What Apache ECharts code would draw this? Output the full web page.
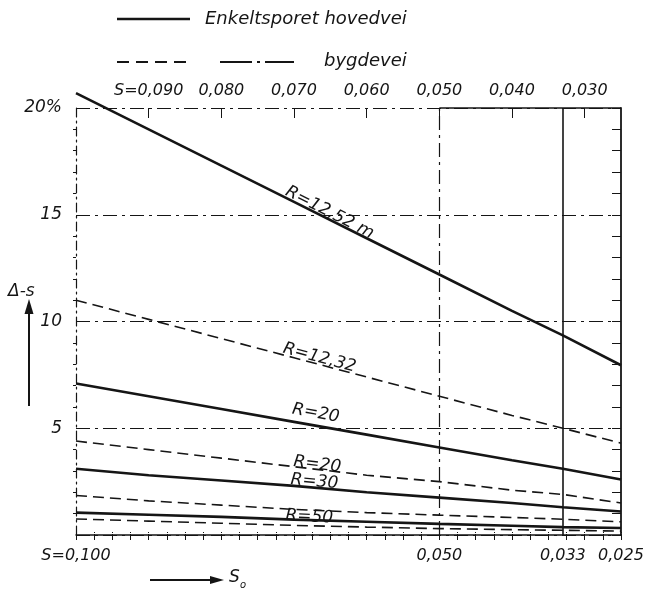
<!DOCTYPE html>
<html><head><meta charset="utf-8">
<script src="https://cdn.jsdelivr.net/npm/echarts@6/dist/echarts.min.js"></script>
<style>html,body{margin:0;padding:0;background:#fff}#c{width:648px;height:592px}</style>
</head><body><div id="c"></div>
<script>
// s values (x) at which curves were read
const sValues = [0.100, 0.090, 0.080, 0.070, 0.060, 0.050, 0.040, 0.033, 0.025];
// Enkeltsporet hovedvei (solid)
const hovedR1252 = [20.7, 19.0, 17.3, 15.6, 13.9, 12.2, 10.5, 9.35, 7.95];
const hovedR20   = [7.1, 6.5, 5.9, 5.3, 4.7, 4.1, 3.5, 3.1, 2.6];
const hovedR30   = [3.1, 2.8, 2.55, 2.3, 2.0, 1.75, 1.5, 1.3, 1.1];
const hovedR50   = [1.05, 0.95, 0.85, 0.72, 0.62, 0.52, 0.43, 0.37, 0.33];
// bygdevei (dashed)
const bygdR1232  = [11.0, 10.1, 9.2, 8.3, 7.4, 6.5, 5.6, 5.0, 4.3];
const bygdR20    = [4.4, 4.0, 3.6, 3.2, 2.8, 2.5, 2.1, 1.9, 1.5];
const bygdR30    = [1.85, 1.6, 1.4, 1.2, 1.05, 0.93, 0.82, 0.74, 0.62];
const bygdR50    = [0.75, 0.65, 0.55, 0.45, 0.37, 0.30, 0.25, 0.22, 0.18];
// tick labels
const topLabelValues = [0.090, 0.080, 0.070, 0.060, 0.050, 0.040, 0.030];
const bottomLabelValues = [0.100, 0.050, 0.033, 0.025];
const yLabelValues = [5, 10, 15, 20];
const refLinesS = [0.050, 0.033];
const curveNames = ['R=12,52 m', 'R=12,32', 'R=20', 'R=20', 'R=30', 'R=50'];

const INK = '#151515';
const FONT = '"DejaVu Sans", sans-serif';
const fineTicks = [];
for (let i = 0; i <= 30; i++) fineTicks.push(+(0.1 - i * 0.0025).toFixed(4));
const fmt = v => v.toFixed(3).replace('.', ',');

function pairs(ys) { return sValues.map((s, i) => [s, ys[i]]); }
function lineSeries(name, ys, dashed, lbl) {
  const ser = {
    type: 'line', name, data: pairs(ys), xAxisIndex: 0, yAxisIndex: 0,
    symbol: 'none', smooth: false, clip: false, silent: true,
    lineStyle: { color: INK, width: dashed ? 1.6 : 2.6, type: dashed ? [11, 6] : 'solid' },
    z: 5
  };
  if (lbl) {
    ser.markPoint = {
      symbol: 'circle', symbolSize: 1, silent: true, precision: 5,
      itemStyle: { color: 'rgba(0,0,0,0)' },
      label: { show: true, position: 'inside', formatter: lbl.text, rotate: lbl.rot,
               color: INK, fontStyle: 'italic', fontSize: 17, fontFamily: FONT },
      data: [{ coord: lbl.at }]
    };
  }
  return ser;
}

const chart = echarts.init(document.getElementById('c'), null, { renderer: 'canvas' });
const xBase = { type: 'value', min: 0.025, max: 0.1, inverse: true, splitLine: { show: false } };
chart.setOption({
  animation: false,
  backgroundColor: '#fff',
  grid: { left: 76, right: 27, top: 108, bottom: 57, containLabel: false },
  xAxis: [
    Object.assign({}, xBase, {
      position: 'bottom',
      axisLine: { lineStyle: { color: INK, width: 1.5 } },
      axisTick: { inside: true, length: 4, customValues: fineTicks, lineStyle: { color: INK, width: 1, type: 'dotted' } },
      axisLabel: { customValues: bottomLabelValues, margin: 13, color: INK, fontStyle: 'italic', fontSize: 16, fontFamily: FONT,
        formatter: v => (Math.abs(v - 0.1) < 1e-6 ? 'S=' : '') + fmt(v) }
    }),
    Object.assign({}, xBase, {
      position: 'top',
      axisLine: { show: false },
      axisTick: { inside: true, length: 5, customValues: fineTicks, lineStyle: { color: INK, width: 1 } },
      axisLabel: { customValues: topLabelValues, margin: 9, color: INK, fontStyle: 'italic', fontSize: 16, fontFamily: FONT,
        formatter: v => (Math.abs(v - 0.09) < 1e-6 ? 'S=' : '') + fmt(v) }
    }),
    Object.assign({}, xBase, {
      position: 'top',
      axisLine: { show: false },
      axisTick: { inside: true, length: 10, customValues: topLabelValues, lineStyle: { color: INK, width: 1 } },
      axisLabel: { show: false }
    })
  ],
  yAxis: [
    {
      type: 'value', position: 'left', min: 0, max: 20, interval: 5,
      axisLine: { show: true, lineStyle: { color: INK, width: 1.2, type: [9, 4, 2, 4] } },
      axisTick: { show: false },
      minorTick: { show: true, splitNumber: 5, length: 3, lineStyle: { color: INK } },
      axisLabel: { customValues: yLabelValues, margin: 14, color: INK, fontStyle: 'italic', fontSize: 17, fontFamily: FONT,
        formatter: v => v === 20 ? '20%' : String(v) },
      splitLine: { show: true, lineStyle: { color: INK, width: 1, type: [14, 5, 3, 5] } }
    },
    {
      type: 'value', position: 'right', min: 0, max: 20, interval: 1,
      axisLine: { show: true, lineStyle: { color: INK, width: 1.8 } },
      axisTick: { show: true, inside: true, length: 9, lineStyle: { color: INK, width: 1 } },
      axisLabel: { show: false }, splitLine: { show: false }
    }
  ],
  series: [
    lineSeries('Enkeltsporet hovedvei R=12,52', hovedR1252, false, { text: curveNames[0], rot: -27, at: [0.0651, 15.1] }),
    lineSeries('bygdevei R=12,32', bygdR1232, true, { text: curveNames[1], rot: -15, at: [0.0665, 8.3] }),
    lineSeries('Enkeltsporet hovedvei R=20', hovedR20, false, { text: curveNames[2], rot: -10, at: [0.0670, 5.7] }),
    lineSeries('bygdevei R=20', bygdR20, true, { text: curveNames[3], rot: -7, at: [0.0668, 3.3] }),
    lineSeries('Enkeltsporet hovedvei R=30', hovedR30, false, { text: curveNames[4], rot: -5, at: [0.0672, 2.5] }),
    lineSeries('bygdevei R=30', bygdR30, true, null),
    lineSeries('Enkeltsporet hovedvei R=50', hovedR50, false, { text: curveNames[5], rot: -3, at: [0.0679, 0.85] }),
    lineSeries('bygdevei R=50', bygdR50, true, null),
    {
      type: 'line', data: [], xAxisIndex: 0, yAxisIndex: 0, silent: true,
      markLine: {
        symbol: 'none', silent: true, precision: 5, label: { show: false },
        data: [
          { xAxis: refLinesS[0], lineStyle: { color: INK, width: 1.2, type: [14, 5, 3, 5] } },
          { xAxis: refLinesS[1], lineStyle: { color: INK, width: 1.6, type: 'solid' } },
          [ { coord: [refLinesS[0], 20], lineStyle: { color: INK, width: 1.6, type: 'solid' } },
            { coord: [0.025, 20] } ]
        ]
      }
    }
  ],
  graphic: [
    { type: 'line', shape: { x1: 117, y1: 19, x2: 190, y2: 19 }, style: { stroke: INK, lineWidth: 2.6 } },
    { type: 'text', x: 205, y: 19, style: { text: 'Enkeltsporet hovedvei', font: 'italic 18px "DejaVu Sans"', fill: INK, verticalAlign: 'middle' } },
    { type: 'line', shape: { x1: 117, y1: 62, x2: 186, y2: 62 }, style: { stroke: INK, lineWidth: 1.8, lineDash: [12, 7] } },
    { type: 'line', shape: { x1: 220, y1: 62, x2: 294, y2: 62 }, style: { stroke: INK, lineWidth: 1.8, lineDash: [32, 5, 3, 5] } },
    { type: 'text', x: 324, y: 61, style: { text: 'bygdevei', font: 'italic 18px "DejaVu Sans"', fill: INK, verticalAlign: 'middle' } },
    { type: 'text', x: 8, y: 292, style: { text: 'Δ-s', font: 'italic 17px "DejaVu Sans"', fill: INK, verticalAlign: 'middle' } },
    { type: 'line', shape: { x1: 29, y1: 406, x2: 29, y2: 312 }, style: { stroke: INK, lineWidth: 2 } },
    { type: 'polygon', shape: { points: [[29, 299], [24.5, 314], [33.5, 314]] }, style: { fill: INK } },
    { type: 'line', shape: { x1: 150, y1: 580, x2: 212, y2: 580 }, style: { stroke: INK, lineWidth: 2 } },
    { type: 'polygon', shape: { points: [[224, 580], [210, 576], [210, 584]] }, style: { fill: INK } },
    { type: 'text', x: 229, y: 578, style: { text: 'S', font: 'italic 17px "DejaVu Sans"', fill: INK, verticalAlign: 'middle' } },
    { type: 'text', x: 240, y: 585, style: { text: 'o', font: 'italic 10px "DejaVu Sans"', fill: INK, verticalAlign: 'middle' } }
  ]
});
</script>
</body></html>
